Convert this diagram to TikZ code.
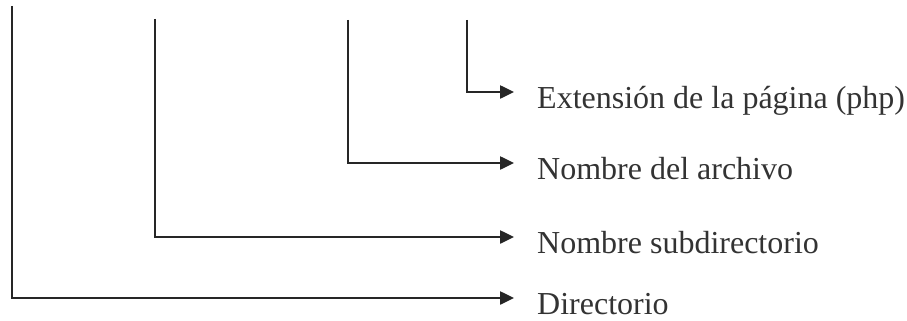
\documentclass[tikz,border=0pt]{standalone}
\usepackage{fontspec}
\setmainfont{Liberation Serif}
\usetikzlibrary{arrows.meta}
\begin{document}
\begin{tikzpicture}[x=1pt,y=-1pt,
  conn/.style={line width=2.5pt,color=black!85,-{Triangle[length=14pt,width=13pt]}},
  lbl/.style={anchor=base west,inner sep=0pt,font=\fontsize{32}{38}\selectfont,text=black!80}]
\useasboundingbox (0,0) rectangle (907,321);
% tops of the vertical lines
\coordinate (t1) at (12,6);
\coordinate (t2) at (155,19);
\coordinate (t3) at (348,20);
\coordinate (t4) at (467,20);
% arrow tips
\coordinate (e4) at (514,92);
\coordinate (e3) at (514,163);
\coordinate (e2) at (514,237);
\coordinate (e1) at (514,298);
% labels
\node[lbl] (l4) at (537,108) {Extensión de la página (php)};
\node[lbl] (l3) at (537,179) {Nombre del archivo};
\node[lbl] (l2) at (537,253) {Nombre subdirectorio};
\node[lbl] (l1) at (537,314) {Directorio};
% connectors
\draw[conn] (t4) |- (e4);
\draw[conn] (t3) |- (e3);
\draw[conn] (t2) |- (e2);
\draw[conn] (t1) |- (e1);
\end{tikzpicture}
\end{document}
